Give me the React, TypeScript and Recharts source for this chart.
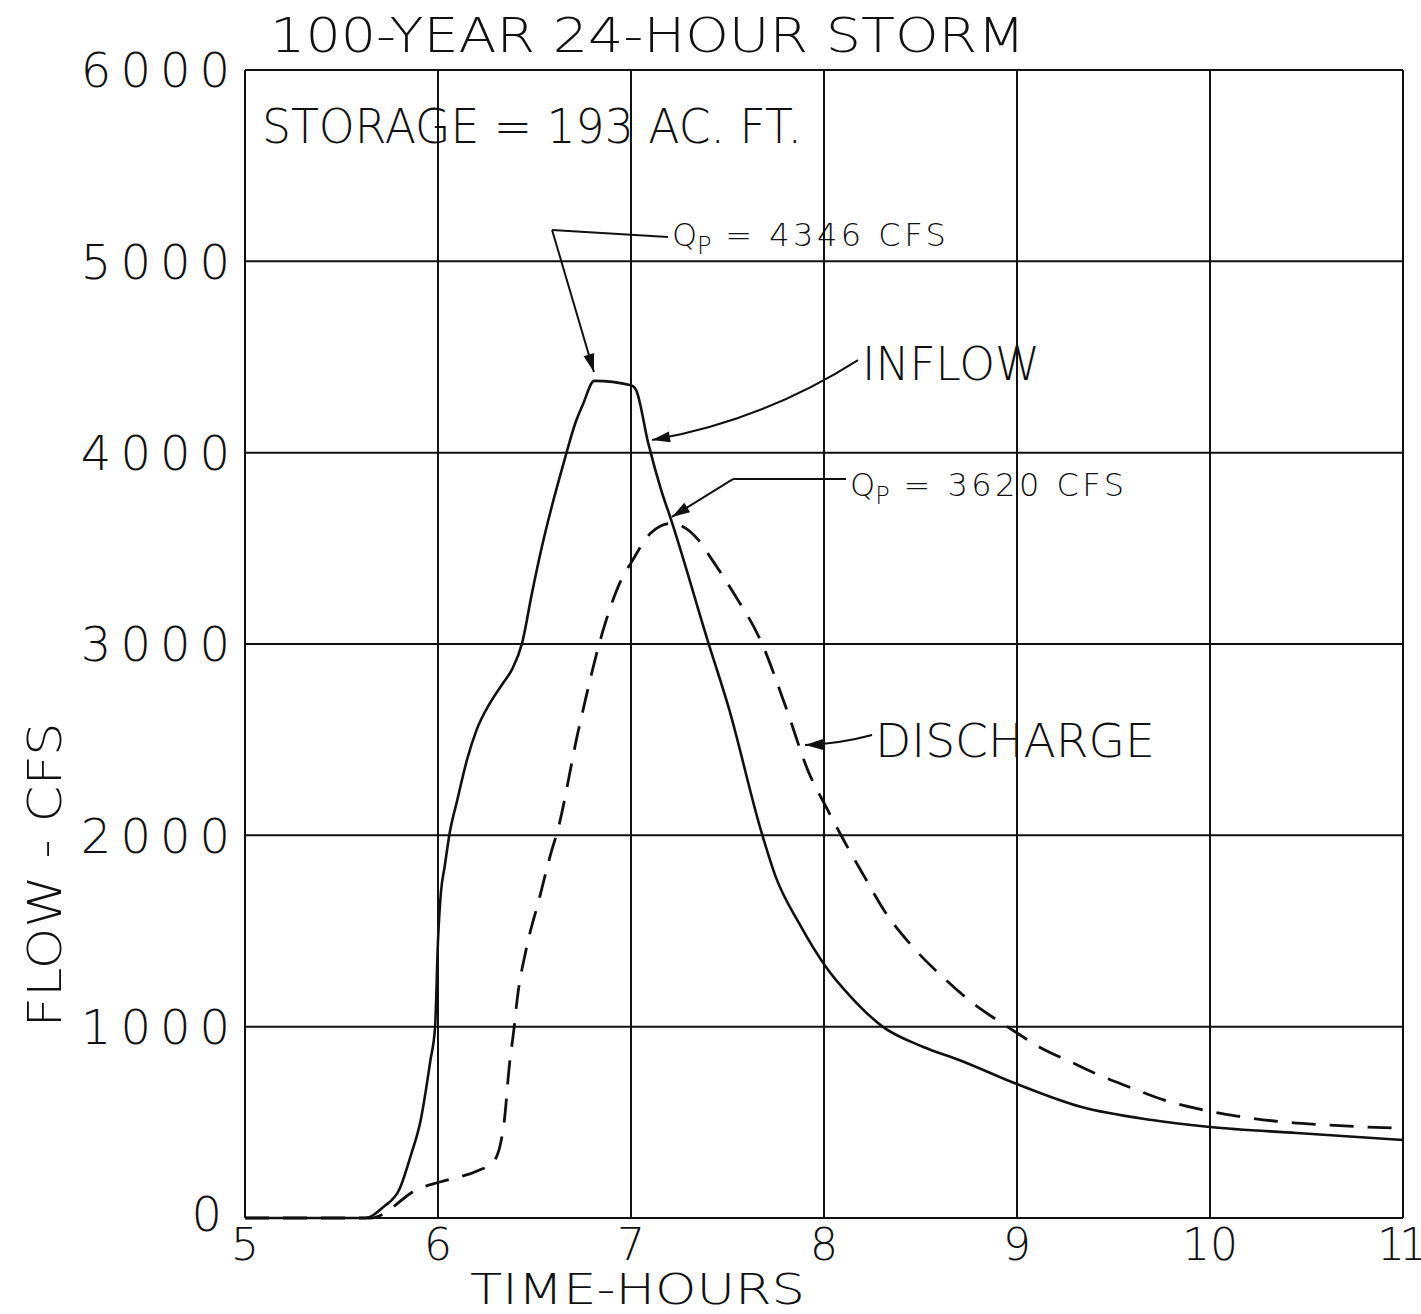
import {
  CartesianGrid,
  Line,
  LineChart,
  ReferenceDot,
  ReferenceLine,
  XAxis,
  YAxis,
} from "recharts";

// hydrograph (hours, cfs)
const inflowHours = [
  5.0, 5.62, 5.72, 5.8, 5.86, 5.91, 5.96, 5.985, 6.0, 6.015, 6.035, 6.06, 6.1, 6.15, 6.2,
  6.27, 6.333, 6.385, 6.436, 6.487, 6.538, 6.59, 6.63, 6.667, 6.71, 6.75, 6.81, 7.0, 7.026,
  7.089, 7.156, 7.208, 7.401, 7.505, 7.677, 7.75, 7.87, 8.01, 8.14, 8.3, 8.515, 8.7, 9.0,
  9.335, 9.7, 10.0, 10.45, 11.0,
];
const inflowCfs = [
  0, 0, 60, 150, 330, 510, 820, 1000, 1450, 1700, 1840, 2010, 2185, 2394, 2551,
  2692, 2790, 2870, 3006, 3267, 3507, 3720, 3870, 4004, 4150, 4250, 4375, 4352, 4328,
  4051, 3806, 3649, 3006, 2671, 2013, 1783, 1542, 1312, 1155, 1003, 894, 826, 700,
  580, 512, 476, 444, 408,
];

const dischargeHours = [
  5.0, 5.65, 5.907, 6.01, 6.215, 6.282, 6.328, 6.344, 6.369, 6.395, 6.41, 6.456, 6.523, 6.59,
  6.615, 6.728, 6.867, 6.949, 7.0, 7.104, 7.208, 7.349, 7.385, 7.521, 7.677, 7.802, 7.922,
  8.01, 8.11, 8.21, 8.31, 8.465, 8.615, 8.77, 8.945, 9.0, 9.115, 9.28, 9.4, 9.58, 9.76, 9.94,
  10.14, 10.38, 10.61, 10.8, 11.0,
];
const dischargeCfs = [
  0, 0, 157, 188, 251, 287, 408, 512, 790, 1000, 1140, 1400, 1662, 1924,
  2007, 2551, 3110, 3335, 3424, 3581, 3630, 3544, 3492, 3283, 3006, 2671, 2326,
  2150, 1960, 1783, 1610, 1411, 1260, 1124, 1003, 967, 894, 815, 758, 685, 617, 570,
  533, 502, 486, 476, 470,
];

const hourTicks = [5, 6, 7, 8, 9, 10, 11];
const flowTicks = [0, 1000, 2000, 3000, 4000, 5000, 6000];

const inflowData = inflowHours.map((t, i) => ({ t, q: inflowCfs[i] }));
const dischargeData = dischargeHours.map((t, i) => ({ t, q: dischargeCfs[i] }));

const FONT = "'DejaVu Sans', sans-serif";
const INK = "#111";

function arrow(bend: number, head: boolean) {
  return (props: any) => {
    const { x1, y1, x2, y2 } = props;
    const mx = (x1 + x2) / 2;
    const my = (y1 + y2) / 2;
    const dx = x2 - x1;
    const dy = y2 - y1;
    const len = Math.hypot(dx, dy) || 1;
    const cx = mx - (dy / len) * bend;
    const cy = my + (dx / len) * bend;
    const d = Math.hypot(x2 - cx, y2 - cy) || 1;
    const ux = (x2 - cx) / d;
    const uy = (y2 - cy) / d;
    const hl = 18;
    const hw = 5.5;
    const bx = x2 - ux * hl;
    const by = y2 - uy * hl;
    return (
      <g>
        <path
          d={`M${x1},${y1} Q${cx},${cy} ${x2},${y2}`}
          fill="none"
          stroke={INK}
          strokeWidth={2}
        />
        {head && (
          <polygon
            points={`${x2},${y2} ${bx - uy * hw},${by + ux * hw} ${bx + uy * hw},${by - ux * hw}`}
            fill={INK}
          />
        )}
      </g>
    );
  };
}

function label(text: string, size: number, width?: number) {
  return (props: any) => (
    <text
      x={props.cx}
      y={props.cy}
      fontFamily={FONT}
      fontWeight={200}
      fontSize={size}
      fill={INK}
      textLength={width}
      lengthAdjust="spacingAndGlyphs"
    >
      {text}
    </text>
  );
}

function peakLabel(value: string) {
  return (props: any) => (
    <text x={props.cx} y={props.cy} fontFamily={FONT} fontWeight={200} fontSize={32} fill={INK}>
      Q
      <tspan dy={8} fontSize={24}>
        P
      </tspan>
      <tspan dy={-8} letterSpacing={3.5}>
        {` = ${value}  CFS`}
      </tspan>
    </text>
  );
}

function yLabel(props: any) {
  return (
    <text
      x={props.cx}
      y={props.cy}
      transform={`rotate(-90 ${props.cx} ${props.cy})`}
      textAnchor="middle"
      dominantBaseline="central"
      fontFamily={FONT}
      fontWeight={200}
      fontSize={46}
      fill={INK}
      textLength={305}
      lengthAdjust="spacingAndGlyphs"
    >
      FLOW - CFS
    </text>
  );
}

function HourTick(props: any) {
  const { x, y, payload } = props;
  const last = payload.value === 11;
  return (
    <text
      x={last ? x - 4 : x}
      y={y + 34}
      textAnchor="middle"
      fontFamily={FONT}
      fontWeight={200}
      fontSize={44}
      letterSpacing={last ? -6 : 0}
      fill={INK}
    >
      {payload.value}
    </text>
  );
}

function FlowTick(props: any) {
  const { x, y, payload } = props;
  const zero = payload.value === 0;
  return (
    <text
      x={zero ? x - 6 : x + 2}
      y={zero ? y - 4 : y}
      dy="0.36em"
      textAnchor="end"
      fontFamily={FONT}
      fontWeight={200}
      fontSize={48}
      letterSpacing={9}
      fill={INK}
    >
      {payload.value}
    </text>
  );
}

export default function App() {
  return (
    <div style={{ position: "absolute", left: 0, top: 0, background: "#fff" }}>
      <LineChart
        width={1421}
        height={1314}
        margin={{ top: 70, right: 18, bottom: 6, left: 125 }}
      >
        <CartesianGrid stroke={INK} strokeWidth={2} />
        <XAxis
          type="number"
          dataKey="t"
          domain={[5, 11]}
          ticks={hourTicks}
          height={90}
          tickLine={false}
          axisLine={{ stroke: INK, strokeWidth: 2 }}
          tick={<HourTick />}
          allowDecimals={false}
        />
        <YAxis
          type="number"
          dataKey="q"
          domain={[0, 6000]}
          ticks={flowTicks}
          width={120}
          tickLine={false}
          axisLine={{ stroke: INK, strokeWidth: 2 }}
          tick={<FlowTick />}
        />
        <Line
          data={inflowData}
          dataKey="q"
          type="monotone"
          stroke={INK}
          strokeWidth={2.6}
          dot={false}
          isAnimationActive={false}
        />
        <Line
          data={dischargeData}
          dataKey="q"
          type="monotone"
          stroke={INK}
          strokeWidth={2.8}
          strokeDasharray="24 14"
          dot={false}
          isAnimationActive={false}
        />

        {/* leaders and arrows */}
        <ReferenceLine
          segment={[{ x: 7.192, y: 5127 }, { x: 6.591, y: 5164 }]}
          shape={arrow(0, false)}
          ifOverflow="visible"
        />
        <ReferenceLine
          segment={[{ x: 6.591, y: 5164 }, { x: 6.808, y: 4422 }]}
          shape={arrow(0, true)}
          ifOverflow="visible"
        />
        <ReferenceLine
          segment={[{ x: 8.176, y: 4484 }, { x: 7.109, y: 4066 }]}
          shape={arrow(-22, true)}
          ifOverflow="visible"
        />
        <ReferenceLine
          segment={[{ x: 8.114, y: 3862 }, { x: 7.528, y: 3862 }]}
          shape={arrow(0, false)}
          ifOverflow="visible"
        />
        <ReferenceLine
          segment={[{ x: 7.528, y: 3862 }, { x: 7.212, y: 3664 }]}
          shape={arrow(0, true)}
          ifOverflow="visible"
        />
        <ReferenceLine
          segment={[{ x: 8.249, y: 2524 }, { x: 7.902, y: 2472 }]}
          shape={arrow(-4, true)}
          ifOverflow="visible"
        />

        {/* lettering */}
        <ReferenceDot x={5.13} y={6094} r={0} ifOverflow="visible" shape={label("100-YEAR  24-HOUR  STORM", 48, 755)} />
        <ReferenceDot x={5.088} y={5618} r={0} ifOverflow="visible" shape={label("STORAGE = 193 AC. FT.", 48, 540)} />
        <ReferenceDot x={7.212} y={5080} r={0} ifOverflow="visible" shape={peakLabel("4346")} />
        <ReferenceDot x={8.135} y={3774} r={0} ifOverflow="visible" shape={peakLabel("3620")} />
        <ReferenceDot x={8.197} y={4380} r={0} ifOverflow="visible" shape={label("INFLOW", 46, 178)} />
        <ReferenceDot x={8.264} y={2409} r={0} ifOverflow="visible" shape={label("DISCHARGE", 46, 280)} />
        <ReferenceDot x={6.166} y={-452} r={0} ifOverflow="visible" shape={label("TIME-HOURS", 42, 335)} />
        <ReferenceDot x={3.964} y={1793} r={0} ifOverflow="visible" shape={yLabel} />
      </LineChart>
    </div>
  );
}
